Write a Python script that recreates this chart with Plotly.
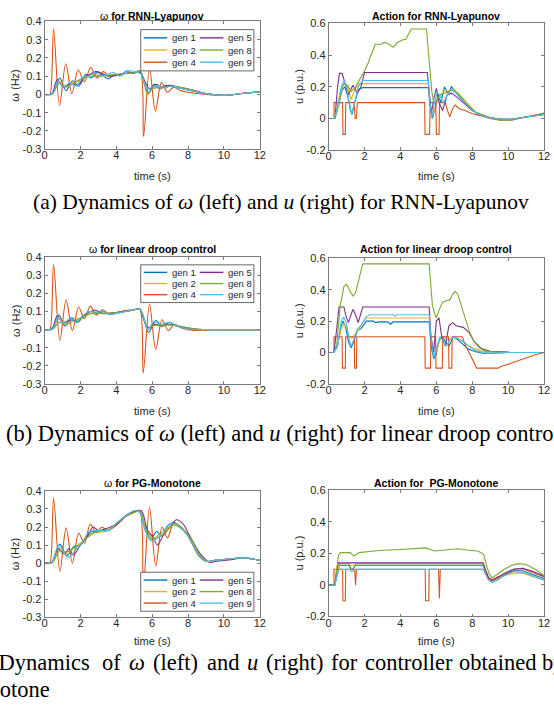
import plotly.graph_objects as go

W, H = 554, 709

# ---------------- labels / ticks ----------------
GENS = ["gen 1", "gen 2", "gen 4", "gen 5", "gen 8", "gen 9"]
GEN_COLORS = ["#0072BD", "#EDB120", "#D95319", "#7E2F8E", "#77AC30", "#4DBEEE"]
X_TICKS = [0, 2, 4, 6, 8, 10, 12]
X_TICK_LABELS = ["0", "2", "4", "6", "8", "10", "12"]
W_TICKS = [-0.3, -0.2, -0.1, 0, 0.1, 0.2, 0.3, 0.4]
W_TICK_LABELS = ["-0.3", "-0.2", "-0.1", "0", "0.1", "0.2", "0.3", "0.4"]
U_TICKS = [-0.2, 0, 0.2, 0.4, 0.6]
U_TICK_LABELS = ["-0.2", "0", "0.2", "0.4", "0.6"]

TITLES = ["ω <b>for RNN-Lyapunov</b>", "<b>Action for RNN-Lyapunov</b>",
          "ω <b>for linear droop control</b>", "<b>Action for linear droop control</b>",
          "ω <b>for PG-Monotone</b>", "<b>Action for  PG-Monotone</b>"]

# ================= RNN-Lyapunov : omega =================
rnn_w_g1_t = [0, 0.3, 0.45, 0.62, 0.85, 1.2, 1.55, 1.9, 2.3, 2.6, 2.95, 3.25, 3.55, 3.9, 4.2, 4.6, 4.95, 5.3, 5.5, 5.8, 6.1, 6.45, 6.75, 7.0, 7.5, 8.0, 9.0, 10.0, 11.0, 12.0]
rnn_w_g1 = [0, 0, 0.005, 0.05, 0.09, 0.02, 0.075, 0.045, 0.11, 0.09, 0.125, 0.105, 0.085, 0.11, 0.105, 0.13, 0.115, 0.13, 0.08, 0.01, 0.055, 0.03, 0.05, 0.045, 0.035, 0.025, 0.003, -0.005, 0.005, 0.015]
rnn_w_g2_t = [0, 0.35, 0.5, 0.8, 1.2, 1.6, 2.0, 2.6, 3.1, 3.6, 4.0, 4.5, 5.0, 5.35, 5.55, 5.7, 6.1, 6.5, 7.0, 7.5, 8.0, 9.0, 10.0, 11.0, 12.0]
rnn_w_g2 = [0, 0, 0.01, 0.07, 0.045, 0.065, 0.085, 0.11, 0.1, 0.105, 0.11, 0.115, 0.12, 0.125, 0.07, 0.03, 0.04, 0.035, 0.045, 0.04, 0.03, 0.005, -0.005, 0.005, 0.015]
rnn_w_g4_t = [0, 0.2, 0.3, 0.5, 0.83, 1.18, 1.52, 1.87, 2.22, 2.57, 2.92, 3.27, 3.6, 4.0, 4.5, 5.0, 5.33, 5.52, 5.85, 6.18, 6.52, 6.85, 7.2, 7.6, 8.0, 9.0, 10.0, 11.0, 12.0]
rnn_w_g4 = [0, 0, 0, 0.36, -0.06, 0.168, 0.005, 0.135, 0.07, 0.148, 0.09, 0.125, 0.1, 0.105, 0.115, 0.12, 0.125, -0.23, 0.145, -0.09, 0.065, 0.012, 0.04, 0.02, 0.012, 0.0, -0.005, 0.005, 0.015]
rnn_w_g5_t = [0, 0.3, 0.45, 0.7, 1.05, 1.45, 1.8, 2.2, 2.5, 2.85, 3.15, 3.6, 4.0, 4.5, 5.0, 5.35, 5.6, 5.85, 6.2, 6.55, 6.95, 7.5, 8.2, 9.0, 10.0, 11.0, 12.0]
rnn_w_g5 = [0, 0, 0.01, 0.08, 0.04, 0.06, 0.05, 0.09, 0.11, 0.125, 0.115, 0.1, 0.105, 0.115, 0.12, 0.12, 0.07, 0.03, 0.055, 0.04, 0.05, 0.04, 0.025, 0.005, -0.005, 0.005, 0.015]
rnn_w_g8_t = [0, 0.35, 0.5, 0.8, 1.2, 1.6, 2.0, 2.5, 3.0, 3.5, 4.0, 4.5, 5.0, 5.35, 5.55, 5.75, 6.0, 6.5, 7.0, 7.5, 8.0, 9.0, 10.0, 11.0, 12.0]
rnn_w_g8 = [0, 0, 0.01, 0.06, 0.04, 0.06, 0.08, 0.1, 0.1, 0.105, 0.11, 0.115, 0.12, 0.125, 0.06, 0.0, 0.03, 0.04, 0.045, 0.04, 0.03, 0.005, -0.005, 0.005, 0.015]
rnn_w_g9_t = [0, 0.35, 0.5, 0.75, 1.05, 1.4, 1.75, 2.1, 2.45, 2.8, 3.1, 3.5, 3.85, 4.2, 4.5, 4.85, 5.2, 5.4, 5.7, 6.0, 6.35, 6.7, 7.0, 7.5, 8.0, 9.0, 10.0, 11.0, 12.0]
rnn_w_g9 = [0, 0, 0.01, 0.075, 0.04, 0.065, 0.045, 0.095, 0.1, 0.12, 0.1, 0.11, 0.12, 0.1, 0.12, 0.13, 0.12, 0.11, 0.03, 0.04, 0.05, 0.035, 0.045, 0.035, 0.025, 0.003, -0.005, 0.005, 0.015]

# ================= RNN-Lyapunov : action =================
rnn_u_g1_t = [0, 0.35, 0.55, 0.75, 0.9, 1.05, 1.2, 1.3, 1.45, 1.65, 1.9, 5.55, 5.65, 5.78, 5.95, 6.1, 6.25, 6.45, 6.65, 6.85, 7.05, 7.4, 7.8, 8.3, 9.0, 9.6, 10.2, 11.0, 12.0]
rnn_u_g1 = [0, 0, 0.08, 0.18, 0.2, 0.15, 0.06, 0.025, 0.1, 0.18, 0.195, 0.195, 0.08, 0.0, 0.07, 0.15, 0.1, 0.2, 0.16, 0.2, 0.17, 0.12, 0.07, 0.03, 0.005, -0.005, -0.005, 0.01, 0.025]
rnn_u_g2_t = [0, 0.35, 0.55, 0.75, 0.9, 1.05, 1.25, 1.45, 1.7, 1.85, 5.55, 5.65, 5.8, 5.95, 6.15, 6.4, 6.7, 6.95, 7.3, 7.7, 8.2, 9.0, 9.6, 10.2, 11.0, 12.0]
rnn_u_g2 = [0, 0, 0.08, 0.2, 0.22, 0.2, 0.12, 0.18, 0.22, 0.22, 0.22, 0.1, 0.02, 0.08, 0.13, 0.17, 0.175, 0.185, 0.15, 0.1, 0.04, 0.005, -0.005, -0.005, 0.01, 0.025]
rnn_u_g4_t = [0, 0.3, 0.3, 0.78, 0.8, 0.93, 0.95, 1.42, 1.48, 1.55, 1.6, 5.35, 5.37, 5.62, 5.66, 5.97, 6.0, 6.15, 6.18, 6.5, 6.62, 6.75, 6.9, 7.05, 7.3, 7.6, 8.0, 8.4, 9.0, 9.6, 10.2, 11.0, 12.0]
rnn_u_g4 = [0, 0, 0.1, 0.1, -0.1, -0.1, 0.1, 0.1, 0.0, 0.0, 0.1, 0.1, -0.1, -0.1, 0.1, 0.1, -0.1, -0.1, 0.1, 0.1, 0.05, 0.01, 0.06, 0.085, 0.06, 0.05, 0.03, 0.02, 0.0, -0.01, -0.01, 0.01, 0.035]
rnn_u_g5_t = [0, 0.35, 0.5, 0.6, 0.75, 0.9, 1.1, 1.35, 1.6, 1.8, 2.0, 5.5, 5.6, 5.72, 5.85, 6.0, 6.15, 6.35, 6.6, 6.85, 7.2, 7.6, 8.0, 8.4, 9.0, 9.6, 10.2, 11.0, 12.0]
rnn_u_g5 = [0, 0, 0.2, 0.285, 0.285, 0.22, 0.15, 0.21, 0.16, 0.2, 0.29, 0.29, 0.15, 0.03, 0.12, 0.19, 0.1, 0.05, 0.15, 0.16, 0.13, 0.09, 0.05, 0.025, 0.005, -0.005, -0.005, 0.01, 0.025]
rnn_u_g8_t = [0, 0.3, 0.45, 0.65, 0.85, 1.05, 1.25, 1.5, 1.75, 2.0, 2.2, 2.4, 2.6, 2.85, 3.1, 3.35, 3.6, 3.85, 4.1, 4.3, 4.45, 4.6, 5.45, 5.55, 5.65, 5.75, 5.85, 6.0, 6.2, 6.45, 6.7, 6.95, 7.2, 7.5, 7.8, 8.2, 8.6, 9.0, 9.5, 10.0, 10.5, 11.0, 11.5, 12.0]
rnn_u_g8 = [0, 0, 0.05, 0.17, 0.22, 0.21, 0.17, 0.2, 0.25, 0.3, 0.35, 0.41, 0.47, 0.465, 0.48, 0.47, 0.45, 0.48, 0.495, 0.5, 0.53, 0.565, 0.565, 0.45, 0.3, 0.17, 0.1, 0.11, 0.15, 0.16, 0.17, 0.18, 0.16, 0.12, 0.08, 0.04, 0.02, 0.005, -0.01, -0.01, 0.0, 0.01, 0.02, 0.03]
rnn_u_g9_t = [0, 0.35, 0.55, 0.7, 0.85, 1.0, 1.15, 1.28, 1.45, 1.65, 1.9, 5.55, 5.65, 5.75, 5.9, 6.05, 6.2, 6.4, 6.6, 6.85, 7.1, 7.5, 8.0, 8.5, 9.0, 9.6, 10.2, 11.0, 12.0]
rnn_u_g9 = [0, 0, 0.1, 0.2, 0.24, 0.2, 0.1, 0.03, 0.1, 0.2, 0.24, 0.24, 0.1, 0.0, 0.1, 0.17, 0.14, 0.1, 0.15, 0.18, 0.16, 0.11, 0.05, 0.02, 0.005, -0.005, -0.005, 0.01, 0.025]

# ================= linear droop : omega =================
drp_w_g1_t = [0, 0.3, 0.45, 0.8, 1.15, 1.5, 1.85, 2.2, 2.55, 2.9, 3.25, 3.6, 4.0, 4.5, 5.0, 5.3, 5.5, 5.8, 6.2, 6.55, 6.95, 7.4, 7.9, 8.5, 9.0, 10.0, 12.0]
drp_w_g1 = [0, 0, 0.01, 0.08, 0.02, 0.065, 0.04, 0.08, 0.1, 0.09, 0.1, 0.085, 0.09, 0.1, 0.11, 0.115, 0.07, -0.015, 0.05, 0.02, 0.04, 0.02, 0.005, 0.0, 0.0, 0.0, 0.0]
drp_w_g2_t = [0, 0.35, 0.5, 0.8, 1.2, 1.6, 2.0, 2.5, 3.0, 3.5, 4.0, 4.5, 5.0, 5.3, 5.55, 5.75, 6.1, 6.5, 7.0, 7.5, 8.0, 8.6, 9.2, 10.0, 12.0]
drp_w_g2 = [0, 0, 0.008, 0.06, 0.04, 0.055, 0.065, 0.09, 0.095, 0.09, 0.095, 0.1, 0.11, 0.115, 0.06, 0.01, 0.03, 0.02, 0.03, 0.015, 0.005, 0.0, 0.0, 0.0, 0.0]
drp_w_g4_t = [0, 0.2, 0.3, 0.5, 0.85, 1.2, 1.55, 1.9, 2.22, 2.55, 2.9, 3.22, 3.55, 4.0, 4.5, 5.0, 5.3, 5.5, 5.85, 6.2, 6.55, 6.9, 7.25, 7.6, 8.0, 8.6, 9.2, 10.0, 11.0, 12.0]
drp_w_g4 = [0, 0, 0, 0.36, -0.06, 0.165, -0.005, 0.125, 0.06, 0.13, 0.08, 0.11, 0.09, 0.095, 0.105, 0.11, 0.115, -0.24, 0.14, -0.11, 0.055, -0.005, 0.03, 0.01, 0.0, -0.005, 0.0, 0.0, 0.0, 0.0]
drp_w_g5_t = [0, 0.3, 0.45, 0.7, 1.05, 1.45, 1.8, 2.2, 2.55, 2.9, 3.2, 3.6, 4.0, 4.5, 5.0, 5.3, 5.55, 5.8, 6.15, 6.5, 6.9, 7.4, 8.0, 8.6, 9.2, 10.0, 12.0]
drp_w_g5 = [0, 0, 0.01, 0.075, 0.035, 0.055, 0.045, 0.08, 0.1, 0.105, 0.09, 0.09, 0.095, 0.1, 0.11, 0.115, 0.05, 0.01, 0.03, 0.02, 0.03, 0.02, 0.01, 0.002, 0.0, 0.0, 0.0]
drp_w_g8_t = [0, 0.35, 0.5, 0.8, 1.2, 1.6, 2.0, 2.5, 3.0, 3.5, 4.0, 4.5, 5.0, 5.3, 5.55, 5.75, 6.0, 6.5, 7.0, 7.5, 8.0, 8.6, 9.2, 10.0, 12.0]
drp_w_g8 = [0, 0, 0.005, 0.04, 0.03, 0.045, 0.06, 0.085, 0.09, 0.09, 0.095, 0.1, 0.11, 0.115, 0.06, 0.0, 0.02, 0.025, 0.025, 0.02, 0.01, 0.002, 0.0, 0.0, 0.0]
drp_w_g9_t = [0, 0.35, 0.5, 0.75, 1.05, 1.4, 1.75, 2.1, 2.5, 2.9, 3.3, 3.6, 4.0, 4.5, 5.0, 5.3, 5.5, 5.75, 6.1, 6.45, 6.95, 7.4, 7.9, 8.5, 9.0, 10.0, 12.0]
drp_w_g9 = [0, 0, 0.01, 0.07, 0.035, 0.06, 0.04, 0.075, 0.1, 0.095, 0.1, 0.085, 0.09, 0.1, 0.11, 0.115, 0.08, 0.0, 0.045, 0.03, 0.04, 0.02, 0.005, 0.0, 0.0, 0.0, 0.0]

# ================= linear droop : action =================
drp_u_g1_t = [0, 0.3, 0.5, 0.7, 0.8, 0.95, 1.1, 1.25, 1.4, 1.6, 1.8, 2.1, 2.5, 2.6, 2.8, 3.3, 3.45, 3.6, 5.6, 5.7, 5.85, 6.0, 6.15, 6.3, 6.5, 6.7, 6.95, 7.2, 7.5, 7.8, 8.2, 8.6, 9.0, 9.6, 10.0, 12.0]
drp_u_g1 = [0, 0, 0.04, 0.17, 0.2, 0.16, 0.07, 0.03, 0.07, 0.14, 0.15, 0.2, 0.2, 0.19, 0.195, 0.195, 0.18, 0.195, 0.195, 0.05, -0.04, -0.01, 0.08, 0.1, 0.07, 0.04, 0.1, 0.08, 0.05, 0.02, 0.005, -0.005, -0.005, -0.003, 0.0, 0.0]
drp_u_g2_t = [0, 0.3, 0.5, 0.7, 0.85, 1.0, 1.15, 1.3, 1.5, 1.7, 1.9, 2.1, 5.6, 5.7, 5.85, 6.0, 6.2, 6.4, 6.6, 6.85, 7.05, 7.3, 7.6, 8.0, 8.5, 9.0, 10.0, 12.0]
drp_u_g2 = [0, 0, 0.05, 0.15, 0.18, 0.16, 0.1, 0.09, 0.12, 0.15, 0.19, 0.22, 0.22, 0.1, 0.01, 0.0, 0.08, 0.1, 0.08, 0.09, 0.1, 0.08, 0.06, 0.03, 0.01, 0.002, 0.0, 0.0]
drp_u_g4_t = [0, 0.3, 0.3, 0.75, 0.77, 0.93, 0.95, 1.43, 1.45, 1.55, 1.57, 5.36, 5.38, 5.67, 5.7, 5.96, 5.98, 6.33, 6.36, 6.68, 6.7, 6.86, 6.88, 7.45, 7.6, 8.25, 9.45, 9.6, 10.0, 10.5, 11.0, 11.5, 12.0]
drp_u_g4 = [0, 0, 0.1, 0.1, -0.1, -0.1, 0.1, 0.1, -0.1, -0.1, 0.1, 0.1, -0.1, -0.1, 0.1, 0.1, -0.1, -0.1, 0.1, 0.1, -0.1, -0.1, 0.1, 0.1, 0.05, -0.1, -0.1, -0.09, -0.075, -0.055, -0.035, -0.015, 0.0]
drp_u_g5_t = [0, 0.3, 0.45, 0.58, 0.85, 0.95, 1.1, 1.35, 1.5, 1.65, 1.8, 1.9, 5.6, 5.7, 5.85, 6.0, 6.15, 6.3, 6.5, 6.7, 6.9, 7.1, 7.5, 7.8, 8.1, 8.5, 9.0, 9.5, 10.0, 12.0]
drp_u_g5 = [0, 0, 0.15, 0.29, 0.29, 0.24, 0.19, 0.275, 0.24, 0.19, 0.25, 0.29, 0.29, 0.1, 0.0, 0.2, 0.22, 0.1, 0.04, 0.17, 0.19, 0.17, 0.16, 0.13, 0.07, 0.025, 0.008, 0.003, 0.002, 0.0]
drp_u_g8_t = [0, 0.3, 0.45, 0.65, 0.85, 1.0, 1.15, 1.35, 1.5, 1.65, 1.8, 1.9, 5.6, 5.68, 5.78, 5.9, 6.0, 6.15, 6.35, 6.55, 6.75, 6.9, 7.05, 7.2, 7.4, 7.6, 7.85, 8.1, 8.4, 8.7, 9.0, 9.5, 10.0, 12.0]
drp_u_g8 = [0, 0, 0.05, 0.3, 0.42, 0.435, 0.4, 0.36, 0.38, 0.45, 0.53, 0.565, 0.565, 0.42, 0.3, 0.25, 0.22, 0.27, 0.32, 0.33, 0.335, 0.37, 0.39, 0.37, 0.3, 0.22, 0.13, 0.07, 0.03, 0.01, 0.005, 0.002, 0.0, 0.0]
drp_u_g9_t = [0, 0.3, 0.5, 0.7, 0.85, 1.0, 1.15, 1.25, 1.4, 1.6, 1.8, 2.1, 2.3, 3.6, 3.7, 3.8, 5.6, 5.7, 5.85, 6.0, 6.2, 6.35, 6.55, 6.75, 7.0, 7.2, 7.5, 7.8, 8.2, 8.6, 9.0, 9.6, 10.0, 12.0]
drp_u_g9 = [0, 0, 0.05, 0.2, 0.225, 0.18, 0.08, 0.04, 0.08, 0.15, 0.17, 0.23, 0.24, 0.24, 0.232, 0.24, 0.24, 0.1, -0.03, 0.03, 0.1, 0.08, 0.04, 0.08, 0.1, 0.09, 0.07, 0.04, 0.01, 0.0, -0.005, -0.003, 0.0, 0.0]

# ================= PG-Monotone : omega =================
pgm_w_g1_t = [0, 0.3, 0.45, 0.85, 1.25, 1.6, 2.0, 2.5, 2.8, 3.2, 3.6, 4.0, 4.5, 5.0, 5.3, 5.6, 5.9, 6.25, 6.55, 6.9, 7.2, 7.6, 8.0, 8.6, 9.0, 9.5, 10.5, 11.0, 12.0]
pgm_w_g1 = [0, 0, 0.01, 0.105, 0.04, 0.09, 0.1, 0.17, 0.175, 0.18, 0.185, 0.22, 0.26, 0.285, 0.29, 0.2, 0.13, 0.175, 0.15, 0.21, 0.225, 0.2, 0.15, 0.045, 0.01, 0.015, 0.025, 0.03, 0.015]
pgm_w_g2_t = [0, 0.35, 0.5, 0.85, 1.25, 1.6, 2.0, 2.5, 3.0, 3.5, 4.0, 4.5, 5.0, 5.3, 5.7, 6.0, 6.4, 6.7, 7.1, 7.5, 8.0, 8.6, 9.0, 9.5, 10.5, 11.0, 12.0]
pgm_w_g2 = [0, 0, 0.01, 0.085, 0.05, 0.08, 0.1, 0.16, 0.17, 0.18, 0.21, 0.26, 0.28, 0.29, 0.18, 0.13, 0.16, 0.18, 0.21, 0.2, 0.16, 0.06, 0.01, 0.015, 0.025, 0.03, 0.015]
pgm_w_g4_t = [0, 0.2, 0.3, 0.5, 0.85, 1.2, 1.55, 1.9, 2.22, 2.55, 2.9, 3.2, 3.5, 4.0, 4.5, 5.0, 5.3, 5.5, 5.85, 6.2, 6.55, 6.85, 7.2, 7.6, 8.0, 8.6, 9.0, 9.5, 10.5, 11.0, 12.0]
pgm_w_g4 = [0, 0, 0, 0.36, -0.045, 0.195, 0.0, 0.165, 0.11, 0.215, 0.17, 0.2, 0.18, 0.21, 0.255, 0.285, 0.29, -0.15, 0.31, -0.015, 0.2, 0.14, 0.22, 0.2, 0.15, 0.04, 0.01, 0.015, 0.025, 0.03, 0.015]
pgm_w_g5_t = [0, 0.3, 0.45, 0.75, 1.1, 1.35, 1.6, 2.0, 2.4, 2.7, 3.0, 3.4, 4.0, 4.6, 5.1, 5.4, 5.75, 6.0, 6.3, 6.6, 7.0, 7.35, 7.7, 8.1, 8.7, 9.2, 9.6, 10.5, 11.0, 12.0]
pgm_w_g5 = [0, 0, 0.01, 0.08, 0.05, 0.08, 0.045, 0.1, 0.15, 0.2, 0.18, 0.19, 0.215, 0.27, 0.29, 0.29, 0.18, 0.15, 0.1, 0.15, 0.2, 0.24, 0.22, 0.15, 0.05, 0.005, 0.01, 0.02, 0.03, 0.015]
pgm_w_g8_t = [0, 0.35, 0.5, 0.85, 1.2, 1.6, 2.0, 2.5, 3.0, 3.5, 4.0, 4.5, 5.0, 5.3, 5.6, 6.0, 6.5, 7.0, 7.3, 7.7, 8.2, 8.7, 9.1, 9.5, 10.5, 11.0, 12.0]
pgm_w_g8 = [0, 0, 0.01, 0.07, 0.06, 0.08, 0.11, 0.15, 0.18, 0.18, 0.22, 0.26, 0.28, 0.29, 0.2, 0.14, 0.15, 0.2, 0.22, 0.19, 0.13, 0.04, 0.01, 0.015, 0.025, 0.03, 0.015]
pgm_w_g9_t = [0, 0.3, 0.45, 0.8, 1.3, 1.7, 2.0, 2.5, 2.9, 3.3, 3.6, 4.0, 4.5, 5.0, 5.3, 5.6, 6.0, 6.5, 7.0, 7.5, 8.0, 8.6, 9.0, 9.5, 10.5, 11.0, 12.0]
pgm_w_g9 = [0, 0, 0.01, 0.1, 0.03, 0.07, 0.1, 0.175, 0.18, 0.18, 0.185, 0.22, 0.26, 0.29, 0.28, 0.18, 0.12, 0.16, 0.22, 0.2, 0.15, 0.045, 0.01, 0.015, 0.025, 0.03, 0.015]

# ================= PG-Monotone : action =================
pgm_u_g1_t = [0, 0.35, 0.5, 0.6, 1.15, 1.25, 1.35, 1.5, 8.6, 8.75, 8.9, 9.1, 9.4, 9.8, 10.3, 10.8, 11.4, 12.0]
pgm_u_g1 = [0, 0, 0.08, 0.125, 0.125, 0.1, 0.1, 0.125, 0.125, 0.08, 0.04, 0.02, 0.04, 0.065, 0.09, 0.09, 0.065, 0.04]
pgm_u_g2_t = [0, 0.35, 0.5, 0.6, 1.15, 1.25, 1.35, 1.5, 8.6, 8.75, 8.9, 9.1, 9.4, 9.8, 10.3, 10.8, 11.4, 12.0]
pgm_u_g2 = [0, 0, 0.09, 0.135, 0.135, 0.12, 0.12, 0.135, 0.135, 0.08, 0.04, 0.02, 0.04, 0.06, 0.075, 0.075, 0.055, 0.03]
pgm_u_g4_t = [0, 0.3, 0.3, 0.78, 0.8, 0.93, 0.95, 1.45, 1.5, 1.55, 5.38, 5.4, 5.58, 5.6, 6.12, 6.17, 6.22, 8.6, 8.75, 8.9, 9.1, 9.4, 9.8, 10.3, 10.8, 11.4, 12.0]
pgm_u_g4 = [0, 0, 0.1, 0.1, -0.1, -0.1, 0.1, 0.1, 0.0, 0.1, 0.1, -0.1, -0.1, 0.1, 0.1, -0.085, 0.1, 0.1, 0.07, 0.04, 0.03, 0.05, 0.07, 0.1, 0.105, 0.08, 0.05]
pgm_u_g5_t = [0, 0.35, 0.45, 0.55, 8.6, 8.75, 8.9, 9.1, 9.4, 9.8, 10.3, 10.8, 11.4, 12.0]
pgm_u_g5 = [0, 0, 0.1, 0.14, 0.14, 0.09, 0.05, 0.03, 0.045, 0.075, 0.1, 0.105, 0.085, 0.055]
pgm_u_g8_t = [0, 0.35, 0.45, 0.55, 0.65, 1.2, 1.3, 1.4, 1.5, 1.7, 2.5, 3.0, 4.0, 5.0, 5.4, 5.9, 6.5, 7.2, 7.8, 8.3, 8.5, 8.65, 8.8, 8.95, 9.1, 9.4, 9.8, 10.2, 10.6, 11.0, 11.5, 12.0]
pgm_u_g8 = [0, 0, 0.1, 0.19, 0.205, 0.205, 0.195, 0.185, 0.19, 0.205, 0.215, 0.22, 0.225, 0.235, 0.235, 0.215, 0.22, 0.23, 0.22, 0.215, 0.205, 0.19, 0.12, 0.07, 0.045, 0.07, 0.1, 0.125, 0.135, 0.13, 0.1, 0.06]
pgm_u_g9_t = [0, 0.35, 0.5, 0.6, 1.15, 1.25, 1.35, 1.45, 8.6, 8.75, 8.9, 9.1, 9.4, 9.8, 10.3, 10.8, 11.4, 12.0]
pgm_u_g9 = [0, 0, 0.07, 0.1, 0.1, 0.085, 0.085, 0.1, 0.1, 0.06, 0.03, 0.015, 0.03, 0.06, 0.085, 0.08, 0.055, 0.03]

# ---------------- panel assembly ----------------
PANELS = [
    [(rnn_w_g1_t, rnn_w_g1), (rnn_w_g2_t, rnn_w_g2), (rnn_w_g4_t, rnn_w_g4), (rnn_w_g5_t, rnn_w_g5), (rnn_w_g8_t, rnn_w_g8), (rnn_w_g9_t, rnn_w_g9)],
    [(rnn_u_g1_t, rnn_u_g1), (rnn_u_g2_t, rnn_u_g2), (rnn_u_g4_t, rnn_u_g4), (rnn_u_g5_t, rnn_u_g5), (rnn_u_g8_t, rnn_u_g8), (rnn_u_g9_t, rnn_u_g9)],
    [(drp_w_g1_t, drp_w_g1), (drp_w_g2_t, drp_w_g2), (drp_w_g4_t, drp_w_g4), (drp_w_g5_t, drp_w_g5), (drp_w_g8_t, drp_w_g8), (drp_w_g9_t, drp_w_g9)],
    [(drp_u_g1_t, drp_u_g1), (drp_u_g2_t, drp_u_g2), (drp_u_g4_t, drp_u_g4), (drp_u_g5_t, drp_u_g5), (drp_u_g8_t, drp_u_g8), (drp_u_g9_t, drp_u_g9)],
    [(pgm_w_g1_t, pgm_w_g1), (pgm_w_g2_t, pgm_w_g2), (pgm_w_g4_t, pgm_w_g4), (pgm_w_g5_t, pgm_w_g5), (pgm_w_g8_t, pgm_w_g8), (pgm_w_g9_t, pgm_w_g9)],
    [(pgm_u_g1_t, pgm_u_g1), (pgm_u_g2_t, pgm_u_g2), (pgm_u_g4_t, pgm_u_g4), (pgm_u_g5_t, pgm_u_g5), (pgm_u_g8_t, pgm_u_g8), (pgm_u_g9_t, pgm_u_g9)],
]

# pixel layout of axes boxes: (x0, x1, y_top, y_bottom)
BOXES = [
    (42.3, 261.0, 15.7, 145.7), (331.0, 550.0, 17.7, 146.7),
    (42.3, 261.0, 255.7, 384.3), (331.0, 550.0, 256.7, 384.3),
    (42.3, 261.0, 493.3, 621.7), (331.0, 550.0, 492.7, 621.0),
]
TITLE_Y = [10, 10, 247.3, 247.3, 485, 485]
XLABEL_Y = [173, 173, 412, 412, 646, 646]
LEGEND_BOXES = [(140, 255, 24, 66), (140, 255, 263.3, 301.7), (140, 255, 576, 615.7)]


def px(x):
    return x / W


def py(y):
    return 1 - y / H


AX = "#7a7a7a"
TXT = "#262626"
SANS = "Liberation Sans, Arial, sans-serif"
SERIF = "Liberation Serif, Times New Roman, serif"

fig = go.Figure()
layout = dict(width=W, height=H, margin=dict(l=0, r=0, t=0, b=0),
              paper_bgcolor="white", plot_bgcolor="white", showlegend=False)

annotations = []
shapes = []

for i, (series, box) in enumerate(zip(PANELS, BOXES)):
    n = i + 1
    left = (i % 2 == 0)
    xa = "x" if n == 1 else f"x{n}"
    ya = "y" if n == 1 else f"y{n}"
    for (t, v), name, col in zip(series, GENS, GEN_COLORS):
        fig.add_trace(go.Scatter(
            x=t, y=v, mode="lines", name=name, xaxis=xa, yaxis=ya,
            line=dict(color=col, width=1.1, shape="spline" if left else "linear", smoothing=0.9),
            hoverinfo="skip"))
    x0, x1, yt, yb = box
    common = dict(showline=True, linecolor=AX, linewidth=0.8, mirror="allticks",
                  ticks="inside", ticklen=3, tickcolor=AX, tickwidth=0.8,
                  showgrid=False, zeroline=False,
                  tickfont=dict(family=SANS, size=11, color=TXT))
    layout["xaxis" if n == 1 else f"xaxis{n}"] = dict(
        common, domain=[px(x0), px(x1)], range=[0, 12], anchor=ya,
        tickmode="array", tickvals=X_TICKS, ticktext=X_TICK_LABELS, ticklabelstandoff=-4)
    if left:
        yt_vals, yt_text, yr = W_TICKS, W_TICK_LABELS, [-0.3, 0.4]
    else:
        yt_vals, yt_text, yr = U_TICKS, U_TICK_LABELS, [-0.2, 0.6]
    layout["yaxis" if n == 1 else f"yaxis{n}"] = dict(
        common, domain=[py(yb), py(yt)], range=yr, anchor=xa,
        tickmode="array", tickvals=yt_vals, ticktext=yt_text)

    xc = (x0 + x1) / 2
    annotations.append(dict(text=TITLES[i], x=px(xc), y=py(TITLE_Y[i]), xref="paper", yref="paper",
                            xanchor="center", yanchor="middle", showarrow=False,
                            font=dict(family=SANS, size=10.5, color="black")))
    annotations.append(dict(text="time (s)", x=px(xc), y=py(XLABEL_Y[i]), xref="paper", yref="paper",
                            xanchor="center", yanchor="middle", showarrow=False,
                            font=dict(family=SANS, size=11, color=TXT)))
    annotations.append(dict(text="ω (Hz)" if left else "u (p.u.)",
                            x=px(12.5 if left else 301), y=py((yt + yb) / 2),
                            xref="paper", yref="paper", xanchor="center", yanchor="middle",
                            textangle=-90, showarrow=False,
                            font=dict(family=SANS, size=11, color=TXT)))

# ---------------- legends (left column panels) ----------------
for (lx0, lx1, ly0, ly1) in LEGEND_BOXES:
    shapes.append(dict(type="rect", xref="paper", yref="paper", x0=px(lx0), x1=px(lx1),
                       y0=py(ly1), y1=py(ly0), line=dict(color=TXT, width=0.7),
                       fillcolor="white", layer="above"))
    rows_h = (ly1 - ly0)
    for k, (name, col) in enumerate(zip(GENS, GEN_COLORS)):
        colm = k // 3
        row = k % 3
        yy = ly0 + rows_h * (0.2 + 0.295 * row)
        sx0 = lx0 + 3 + colm * 57
        sx1 = sx0 + 24
        shapes.append(dict(type="line", xref="paper", yref="paper", x0=px(sx0), x1=px(sx1),
                           y0=py(yy), y1=py(yy), line=dict(color=col, width=1.4), layer="above"))
        annotations.append(dict(text=name, x=px(sx1 + 3), y=py(yy), xref="paper", yref="paper",
                                xanchor="left", yanchor="middle", showarrow=False,
                                font=dict(family=SANS, size=9.5, color=TXT)))

# ---------------- captions ----------------
CAP_A = dict(family=SERIF, size=21.5, color="black")
CAP = dict(family=SERIF, size=22.5, color="black")
annotations.append(dict(text="(a) Dynamics of <i>ω</i> (left) and <i>u</i> (right) for RNN-Lyapunov",
                        x=px(28), y=py(199), xref="paper", yref="paper", xanchor="left",
                        yanchor="middle", showarrow=False, font=CAP_A))
annotations.append(dict(text="(b) Dynamics of <i>ω</i> (left) and <i>u</i> (right) for linear droop control",
                        x=px(1), y=py(435), xref="paper", yref="paper", xanchor="left",
                        yanchor="middle", showarrow=False, font=CAP))
CAP_C_WORDS = ["(c) Dynamics", "of", "<i>ω</i>", "(left)", "and", "<i>u</i>", "(right)", "for",
               "controller", "obtained", "by"]
CAP_C_X = [90, 99, 126, 150, 205, 246, 265, 331, 366, 461, 546]
for k, (wd, xw) in enumerate(zip(CAP_C_WORDS, CAP_C_X)):
    annotations.append(dict(text=wd, x=px(xw), y=py(668), xref="paper", yref="paper",
                            xanchor="right" if k == 0 else "left", yanchor="middle",
                            showarrow=False, font=CAP))
annotations.append(dict(text="PG-Monotone", x=px(50), y=py(695), xref="paper", yref="paper",
                        xanchor="right", yanchor="middle", showarrow=False, font=CAP))

layout["annotations"] = annotations
layout["shapes"] = shapes
fig.update_layout(**layout)
fig.write_html("out.html", config={"displayModeBar": False},
               post_script="document.body.style.margin='0px';document.body.style.padding='0px';"
                           "document.body.style.overflow='hidden';")
